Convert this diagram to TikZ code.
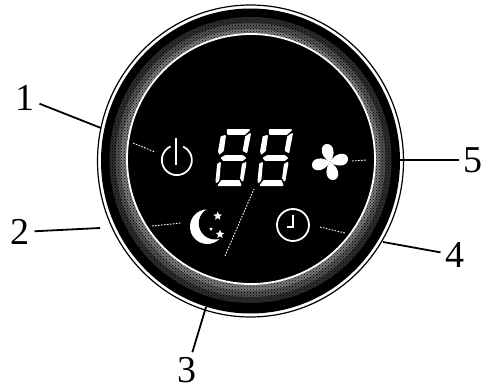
\documentclass[tikz,border=0pt]{standalone}
\usepackage{xcolor}
\usepackage{fontspec}
\setmainfont{Liberation Serif}
\usetikzlibrary{patterns,shapes.geometric}

\begin{document}
\begin{tikzpicture}[x=1pt,y=-1pt,
  numlab/.style={font=\fontsize{38}{38}\selectfont, inner sep=0pt, outer sep=5pt},
  leadout/.style={black, line width=1.8pt},
  leadin/.style={white, line width=0.9pt, dash pattern=on 1.6pt off 1.4pt},
  icon/.style={white, line width=1.8pt},
  seg/.style={fill=white, draw=white, line width=1.8pt, line join=round},
  starmark/.style={star, star points=5, star point ratio=2.2, fill=white, inner sep=0pt, minimum size=#1}]
\useasboundingbox (0,0) rectangle (488,390);
% ---- panel rings ----
\draw[black, line width=1.2pt] (250.5,161) ellipse (153 and 156);
\fill[black] (250.5,161) ellipse (149.5 and 152.5);
\fill[black!82] (250.5,160) ellipse (141 and 143);
\fill[black!68] (250.5,160) ellipse (135 and 137);
\fill[black!52] (250.5,160) ellipse (130 and 131);
\fill[pattern=crosshatch dots, pattern color=black] (250.5,160) ellipse (141 and 143);
\draw[white, line width=1.8pt, fill=black] (251,159) ellipse (124 and 125);
% ---- seven segment digits ----
\foreach \dx in {215,257}{
  \begin{scope}[shift={(\dx,187)}]
    \path[seg] (12.7,-57) -- (34,-57) -- (29.5,-53) -- (13,-53) -- cycle;
    \path[seg] (10,-51) -- (8,-36.5) -- (4.6,-33.5) -- (4,-36) -- (6.5,-50) -- cycle;
    \path[seg] (35,-53) -- (31.5,-35) -- (28.6,-36.5) -- (31,-50) -- cycle;
    \path[seg] (10.5,-31) -- (27.5,-31) -- (30,-29) -- (27.5,-27) -- (8.5,-27) -- (6.8,-29) -- cycle;
    \path[seg] (5,-24) -- (3.5,-7) -- (1.5,-5) -- (1.5,-7) -- (3,-22.5) -- cycle;
    \path[seg] (30.6,-24) -- (27.5,-6.5) -- (26,-9) -- (27.8,-22.5) -- cycle;
    \path[seg] (7,-6) -- (24,-6) -- (25.5,-1.8) -- (3.6,-1.8) -- cycle;
  \end{scope}
}
% ---- power icon ----
\draw[icon] (170.5,146.5) arc (245:-65:15);
\draw[white, line width=2.6pt] (176,138) -- (176,165);
% ---- moon icon ----
\fill[white] (207.3,226.7) circle (17.3);
\fill[black] (215,223.3) circle (16.2);
\node[starmark=9pt] (moonstara) at (217.7,216) {};
\node[starmark=9pt] (moonstarb) at (220,234.3) {};
\node[starmark=4pt] (moonstarc) at (211,229) {};
% ---- fan icon ----
\foreach \ang in {0,90,180,270}{
  \fill[white, shift={(330,162)}, rotate=\ang]
    (0,0) .. controls (-11,-6) and (-10,-18) .. (-3,-18) .. controls (4,-18) and (6,-8) .. (0,0);
}
% ---- clock icon ----
\draw[icon] (293,225) circle (16);
\draw[white, line width=1.4pt] (293,215) -- (293,227) -- (287,227);
% ---- labels and leader lines ----
\node[numlab] (lab1) at (25,98) {1};
\node[numlab] (lab2) at (20,232) {2};
\node[numlab] (lab3) at (187,370) {3};
\node[numlab] (lab4) at (455,255) {4};
\node[numlab] (lab5) at (473,160) {5};
\coordinate (out1) at (101,128);
\coordinate (out2) at (100,228);
\coordinate (out3) at (206,307);
\coordinate (out4) at (383,242);
\coordinate (out5) at (396,160);
\draw[leadout] (lab1) -- (out1);
\draw[leadout] (lab2) -- (out2);
\draw[leadout] (lab3) -- (out3);
\draw[leadout] (lab4) -- (out4);
\draw[leadout] (lab5) -- (out5);
\draw[leadin] (133,143) -- (155,152);
\draw[leadin] (152,226) -- (181,223);
\draw[leadin] (225,256) -- (254,189);
\draw[leadin] (320,227) -- (345,233);
\draw[leadin] (352,161) -- (367,160);
\end{tikzpicture}
\end{document}
